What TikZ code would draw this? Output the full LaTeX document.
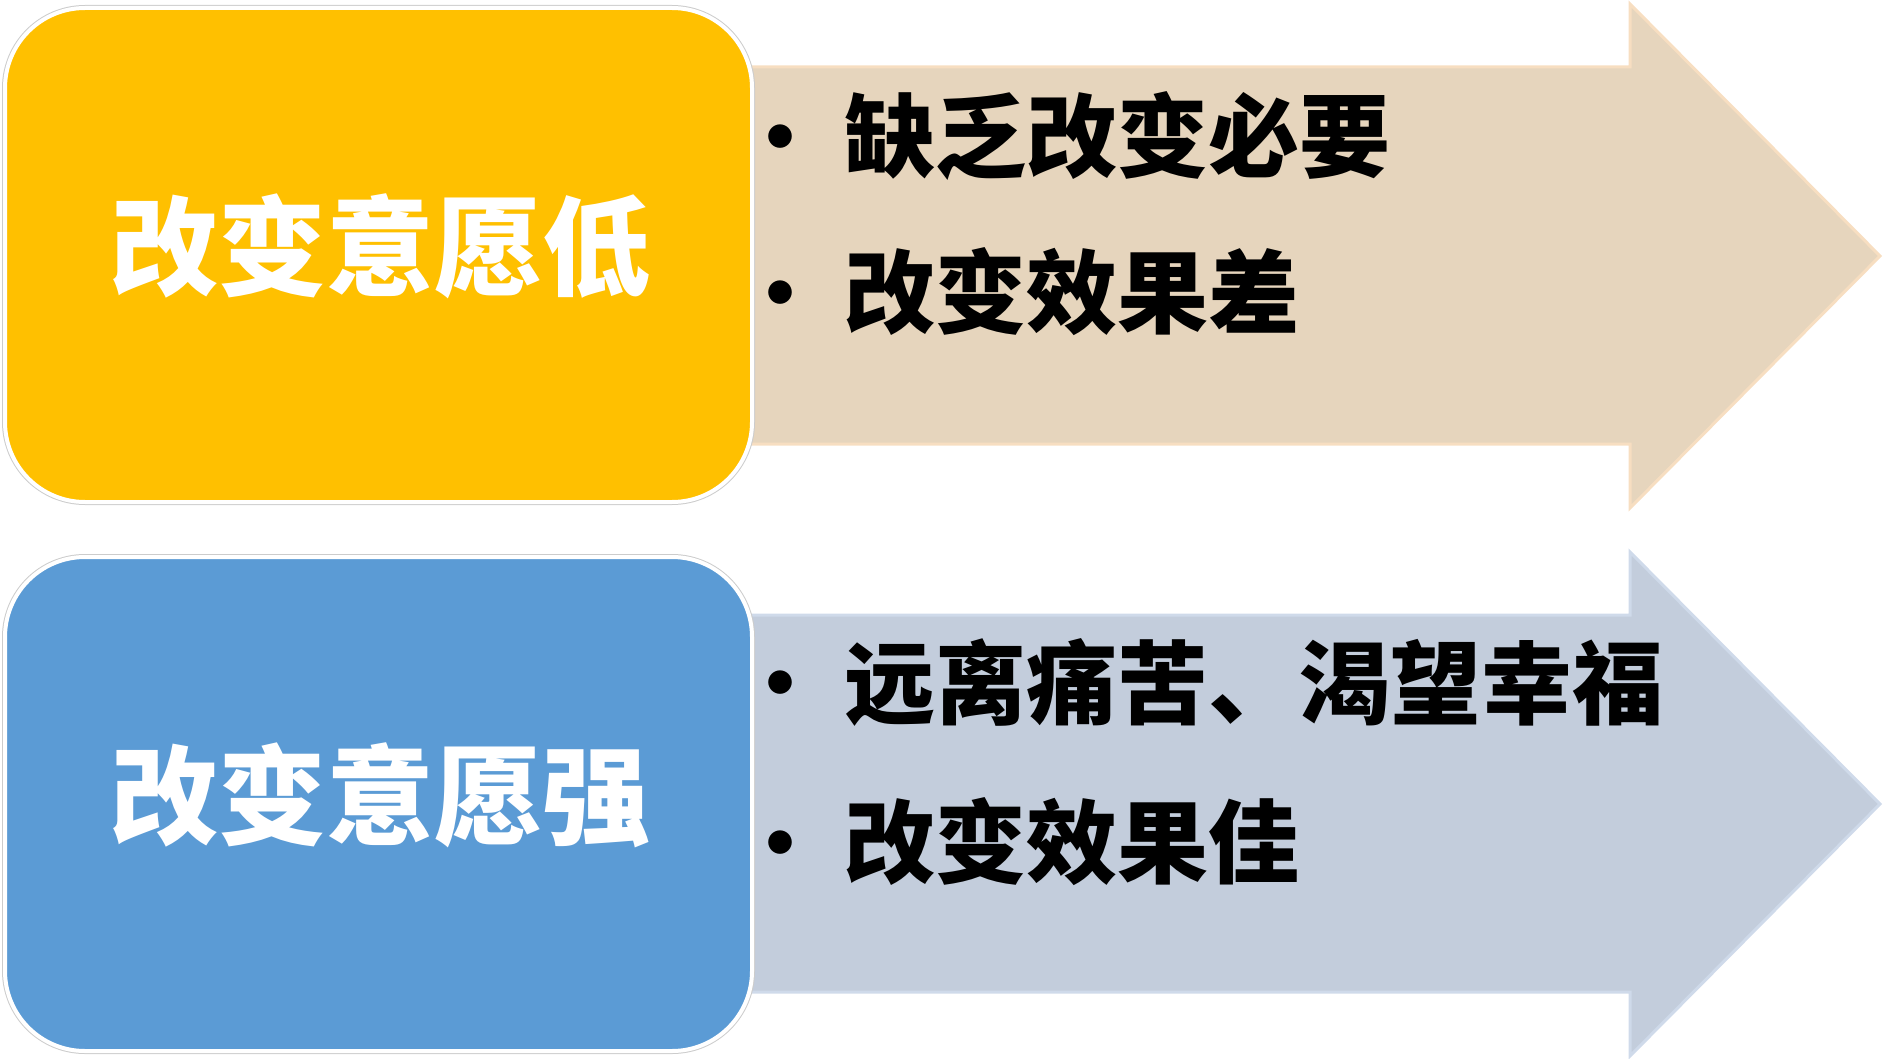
\documentclass[tikz,border=0pt]{standalone}
\usepackage{fontspec}
\newfontfamily\cjk{Noto Sans CJK SC}
\definecolor{lowwill}{HTML}{FFC000}
\definecolor{highwill}{HTML}{5B9BD5}
\definecolor{lowfill}{HTML}{E6D5BD}
\definecolor{lowline}{HTML}{F7DEC1}
\definecolor{highfill}{HTML}{C3CDDC}
\definecolor{highline}{HTML}{CFDAEA}
\tikzset{
  willbox/.style={rounded corners=40pt, minimum width=373.5pt, minimum height=247pt,
    draw=white, line width=2pt, preaction={draw=gray!40, line width=3pt}},
  willtext/.style={text=white, inner sep=0pt, font=\cjk\bfseries\fontsize{54}{60}\selectfont},
  itemtext/.style={anchor=west, inner sep=0pt, font=\cjk\bfseries\fontsize{45.5}{50}\selectfont},
  itemdot/.style={inner sep=0pt, font=\cjk\bfseries\fontsize{42}{50}\selectfont}
}
\begin{document}
\begin{tikzpicture}[x=0.5pt, y=-0.5pt]
    \useasboundingbox (0, 0) rectangle (1883, 1059);

    % Draw arrows
    \draw[fill=lowfill, draw=lowline, line width=1.5pt]
        (740, 67) -- (1630, 67) -- (1630, 4) -- (1880, 256) -- (1630, 508) -- (1630, 444) -- (740, 444) -- cycle;
    \draw[fill=highfill, draw=highline, line width=1.5pt]
        (740, 615) -- (1630, 615) -- (1630, 552) -- (1880, 804) -- (1630, 1056) -- (1630, 992) -- (740, 992) -- cycle;

    % Add boxes
    \node[willbox, fill=lowwill] (low) at (378.5, 255) {};
    \node[willtext] (lowtext) at (380, 246) {改变意愿低};
    \node[willbox, fill=highwill] (high) at (378.5, 804) {};
    \node[willtext] (hightext) at (380, 795) {改变意愿强};

    % Add items
    \node[itemdot] (lowdota) at (780, 147) {•};
    \node[itemtext] (lowa) at (844, 136) {缺乏改变必要};
    \node[itemdot] (lowdotb) at (780, 303) {•};
    \node[itemtext] (lowb) at (844, 292) {改变效果差};

    \node[itemdot] (highdota) at (780, 693) {•};
    \node[itemtext] (higha) at (844, 682) {远离痛苦、渴望幸福};
    \node[itemdot] (highdotb) at (780, 853) {•};
    \node[itemtext] (highb) at (844, 842) {改变效果佳};
\end{tikzpicture}
\end{document}
